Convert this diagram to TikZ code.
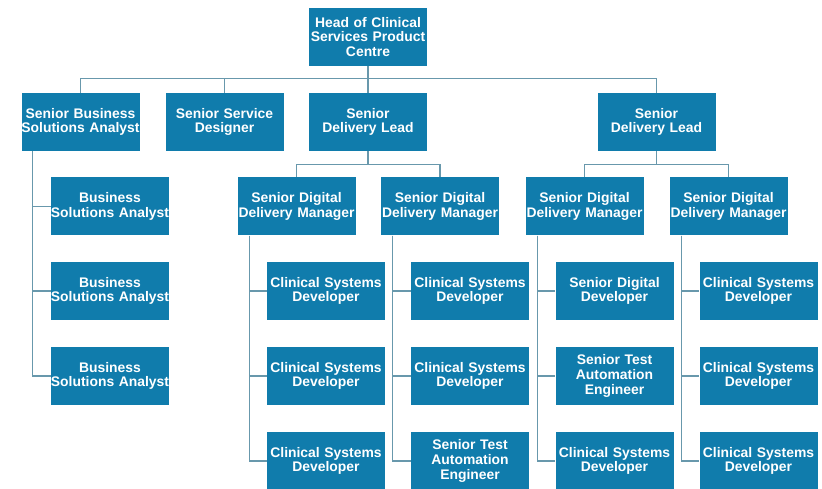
\documentclass[tikz,border=0pt]{standalone}
\usepackage{fontspec}
\setmainfont{Liberation Sans}
\definecolor{boxblue}{RGB}{16,124,172}
\definecolor{linkgrey}{RGB}{104,152,172}

\begin{document}
\begin{tikzpicture}[x=1pt,y=-1pt,
  post/.style={rectangle,fill=boxblue,text=white,font=\fontsize{13.9}{14.7}\selectfont\bfseries,
    text width=124pt,minimum height=58pt,inner ysep=0pt,inner xsep=-3pt,align=center},
  link/.style={draw=linkgrey,line width=1.2pt}]

\useasboundingbox (0,0) rectangle (822,489);

% top
\node[post] (head) at (368,37) {Head of Clinical\\Services Product\\Centre};

% second row
\node[post] (sbsa) at (80.5,122) {Senior Business\\Solutions Analyst};
\node[post] (ssd) at (224.5,122) {Senior Service\\Designer};
\node[post] (sdla) at (368,122) {Senior\\Delivery Lead};
\node[post] (sdlb) at (656.5,122) {Senior\\Delivery Lead};

% delivery managers
\node[post] (sdma) at (296.5,206.5) {Senior Digital\\Delivery Manager};
\node[post] (sdmb) at (440,206.5) {Senior Digital\\Delivery Manager};
\node[post] (sdmc) at (584.5,206.5) {Senior Digital\\Delivery Manager};
\node[post] (sdmd) at (728.5,206.5) {Senior Digital\\Delivery Manager};

% analysts
\node[post] (baa) at (110,206.5) {Business\\Solutions Analyst};
\node[post] (bab) at (110,291) {Business\\Solutions Analyst};
\node[post] (bac) at (110,376) {Business\\Solutions Analyst};

% first team
\node[post] (aa) at (326,291) {Clinical Systems\\Developer};
\node[post] (ab) at (326,376) {Clinical Systems\\Developer};
\node[post] (ac) at (326,461) {Clinical Systems\\Developer};

% second team
\node[post] (ba) at (470,291) {Clinical Systems\\Developer};
\node[post] (bb) at (470,376) {Clinical Systems\\Developer};
\node[post] (bc) at (470,461) {Senior Test\\Automation\\Engineer};

% third team
\node[post] (ca) at (614.5,291) {Senior Digital\\Developer};
\node[post] (cb) at (614.5,376) {Senior Test\\Automation\\Engineer};
\node[post] (cc) at (614.5,461) {Clinical Systems\\Developer};

% fourth team
\node[post] (da) at (758.5,291) {Clinical Systems\\Developer};
\node[post] (db) at (758.5,376) {Clinical Systems\\Developer};
\node[post] (dc) at (758.5,461) {Clinical Systems\\Developer};

% links
\draw[link] (head.south) -- ++(0,12) coordinate (hbus);
\draw[link] (hbus) -| (sbsa.north);
\draw[link] (hbus) -| (ssd.north);
\draw[link] (hbus) -- (sdla.north);
\draw[link] (hbus) -| (sdlb.north);

\draw[link] (sdla.south) -- ++(0,13) coordinate (abus);
\draw[link] (abus) -| (sdma.north);
\draw[link] (abus) -| (sdmb.north);
\draw[link] (sdlb.south) -- ++(0,13) coordinate (bbus);
\draw[link] (bbus) -| (sdmc.north);
\draw[link] (bbus) -| (sdmd.north);

\draw[link] ([xshift=11pt]sbsa.south west) |- (baa.west);
\draw[link] ([xshift=11pt]sbsa.south west) |- (bab.west);
\draw[link] ([xshift=11pt]sbsa.south west) |- (bac.west);

\draw[link] ([xshift=12pt]sdma.south west) |- (aa.west);
\draw[link] ([xshift=12pt]sdma.south west) |- (ab.west);
\draw[link] ([xshift=12pt]sdma.south west) |- (ac.west);

\draw[link] ([xshift=12pt]sdmb.south west) |- (ba.west);
\draw[link] ([xshift=12pt]sdmb.south west) |- (bb.west);
\draw[link] ([xshift=12pt]sdmb.south west) |- (bc.west);

\draw[link] ([xshift=12pt]sdmc.south west) |- (ca.west);
\draw[link] ([xshift=12pt]sdmc.south west) |- (cb.west);
\draw[link] ([xshift=12pt]sdmc.south west) |- (cc.west);

\draw[link] ([xshift=12pt]sdmd.south west) |- (da.west);
\draw[link] ([xshift=12pt]sdmd.south west) |- (db.west);
\draw[link] ([xshift=12pt]sdmd.south west) |- (dc.west);

\end{tikzpicture}
\end{document}
